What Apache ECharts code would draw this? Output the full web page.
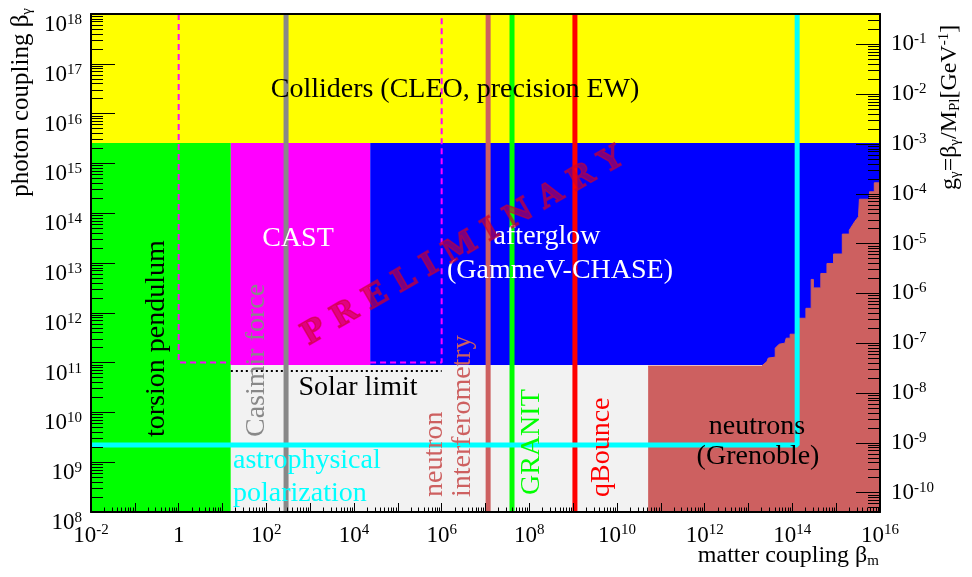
<!DOCTYPE html>
<html><head><meta charset="utf-8">
<script src="https://cdn.jsdelivr.net/npm/echarts@6/dist/echarts.min.js"></script>
<style>html,body{margin:0;padding:0;background:#fff}#c{width:972px;height:577px}</style>
</head><body><div id="c"></div>
<script>
// ---------------- DATA (all values are log10 of the couplings) ----------------
// x: matter coupling beta_m, y: photon coupling beta_gamma
const xExtent = [-2, 16];
const yExtent = [8, 18];
const log10PlanckMass = 18.39;            // g_gamma = beta_gamma / M_Pl  [GeV^-1]

const xTickLabelExp = [-2, 0, 2, 4, 6, 8, 10, 12, 14, 16];
const yTickLabelExp = [8, 9, 10, 11, 12, 13, 14, 15, 16, 17, 18];
const gTickLabelExp = [-10, -9, -8, -7, -6, -5, -4, -3, -2, -1];

// excluded rectangular regions
const regionNames = ['Colliders (CLEO, precision EW)', 'torsion pendulum', 'CAST', 'afterglow (GammeV-CHASE)', 'Solar limit'];
const regionXMin = [-2, -2, 1.19, 4.37, 1.19];
const regionXMax = [16, 1.19, 4.37, 16, 10.71];
const regionYMin = [15.41, 8, 10.95, 10.95, 8];
const regionYMax = [18, 15.41, 15.41, 15.41, 10.95];

// neutrons (Grenoble) excluded region upper boundary
const neutronXs = [10.71, 13.30, 13.42, 13.45, 13.45, 13.61, 13.61, 13.70, 13.83, 13.86, 13.95, 13.95, 14.14, 14.14,
  14.31, 14.31, 14.43, 14.43, 14.48, 14.48, 14.65, 14.65, 14.79, 14.79, 14.94, 14.94, 15.14, 15.14,
  15.30, 15.30, 15.43, 15.51, 15.53, 15.53, 15.76, 15.76, 15.87, 15.87, 16.0];
const neutronYs = [10.93, 10.93, 11.02, 11.09, 11.11, 11.11, 11.29, 11.37, 11.39, 11.49, 11.49, 11.57, 11.57, 11.89,
  11.89, 12.09, 12.09, 12.67, 12.67, 12.50, 12.50, 12.79, 12.79, 12.99, 12.99, 13.18, 13.18, 13.58,
  13.58, 13.66, 13.84, 13.93, 13.95, 14.28, 14.28, 14.43, 14.43, 14.61, 14.61];

// vertical limit lines (beta_m)
const lineNames = ['Casimir force', 'neutron interferometry', 'GRANIT', 'qBounce'];
const lineXs = [2.45, 7.06, 7.605, 9.04];

// astrophysical polarization bound (L shape)
const astroXs = [-2, 14.11, 14.11];
const astroYs = [9.345, 9.345, 18];

// torsion pendulum projection (dashed)
const pendulumXs = [0, 0, 6, 6];
const pendulumYs = [18, 11, 11, 18];

// solar limit (dotted)
const solarXs = [1.19, 6];
const solarYs = [10.83, 10.83];

// ---------------- STYLE ----------------
const FONT = 'Liberation Serif';
const regionColors = ['#ffff00', '#00ff00', '#ff00ff', '#0000ff', '#f2f2f2'];
const neutronColor = '#cd6060';
const lineColors = ['#888888', '#cd6060', '#00ff00', '#ff0000'];
const cyan = '#00ffff';

function zip(a, b) { return a.map((v, i) => [v, b[i]]); }
function intRange(a, b) { const o = []; for (let i = a; i <= b; i++) o.push(i); return o; }
function minors(lo, hi) {
  const out = [];
  for (let n = Math.floor(lo) - 1; n <= Math.ceil(hi); n++)
    for (let k = 2; k <= 9; k++) { const v = n + Math.log10(k); if (v > lo + 1e-9 && v < hi - 1e-9) out.push(v); }
  return out;
}
const expLabel = v => (Math.abs(v) < 1e-9 ? '1' : '10{e|' + Math.round(v) + '}');
const labelRich = { e: { fontSize: 15, fontFamily: FONT, color: '#000', verticalAlign: 'top', lineHeight: 15 } };

const gMin = yExtent[0] - log10PlanckMass, gMax = yExtent[1] - log10PlanckMass;

function baseAxis(extra) {
  return Object.assign({
    type: 'value', z: 10, splitLine: { show: false },
    axisLine: { show: false, onZero: false, lineStyle: { color: '#000', width: 2 } },
    axisTick: { show: false }, axisLabel: { show: false }
  }, extra);
}

const xAxes = [
  baseAxis({ min: xExtent[0], max: xExtent[1], position: 'bottom',
    axisLine: { show: true, onZero: false, lineStyle: { color: '#000', width: 2 } },
    axisTick: { show: true, inside: true, length: 9, lineStyle: { color: '#000', width: 1 }, customValues: intRange(xExtent[0], xExtent[1]) },
    axisLabel: { show: true, margin: 11, customValues: xTickLabelExp, formatter: expLabel, color: '#000',
      fontFamily: FONT, fontSize: 23, lineHeight: 25, rich: labelRich } }),
  baseAxis({ min: xExtent[0], max: xExtent[1], position: 'bottom',
    axisTick: { show: true, inside: true, length: 4.5, lineStyle: { color: '#000', width: 1 }, customValues: minors(xExtent[0], xExtent[1]) } }),
  baseAxis({ min: xExtent[0], max: xExtent[1], position: 'top',
    axisLine: { show: true, onZero: false, lineStyle: { color: '#000', width: 2 } } })
];

const yAxes = [
  baseAxis({ min: yExtent[0], max: yExtent[1], position: 'left',
    axisLine: { show: true, onZero: false, lineStyle: { color: '#000', width: 2 } },
    axisTick: { show: true, inside: true, length: 24, lineStyle: { color: '#000', width: 1 }, customValues: intRange(yExtent[0], yExtent[1]) },
    axisLabel: { show: true, margin: 9, customValues: yTickLabelExp, formatter: expLabel, color: '#000',
      fontFamily: FONT, fontSize: 23, lineHeight: 25, padding: [22, 0, 0, 0], rich: labelRich } }),
  baseAxis({ min: yExtent[0], max: yExtent[1], position: 'left',
    axisTick: { show: true, inside: true, length: 12, lineStyle: { color: '#000', width: 1 }, customValues: minors(yExtent[0], yExtent[1]) } }),
  baseAxis({ min: gMin, max: gMax, position: 'right',
    axisLine: { show: true, onZero: false, lineStyle: { color: '#000', width: 2 } },
    axisTick: { show: true, inside: true, length: 24, lineStyle: { color: '#000', width: 1 }, customValues: gTickLabelExp },
    axisLabel: { show: true, margin: 11, customValues: gTickLabelExp, formatter: expLabel, color: '#000',
      fontFamily: FONT, fontSize: 23, lineHeight: 25, rich: labelRich } }),
  baseAxis({ min: gMin, max: gMax, position: 'right',
    axisTick: { show: true, inside: true, length: 12, lineStyle: { color: '#000', width: 1 }, customValues: minors(gMin, gMax) } })
];

const series = [];
regionNames.forEach((name, i) => {
  series.push({
    type: 'custom', name, z: 1, clip: true, silent: true,
    data: [[regionXMin[i], regionXMax[i], regionYMin[i], regionYMax[i]]],
    renderItem: (params, api) => {
      const p0 = api.coord([api.value(0), api.value(2)]);
      const p1 = api.coord([api.value(1), api.value(3)]);
      return { type: 'rect',
        shape: { x: Math.min(p0[0], p1[0]), y: Math.min(p0[1], p1[1]), width: Math.abs(p1[0] - p0[0]), height: Math.abs(p1[1] - p0[1]) },
        style: { fill: regionColors[i] } };
    }
  });
});
series.push({ type: 'line', name: 'neutrons (Grenoble)', z: 2, symbol: 'none', silent: true,
  data: zip(neutronXs, neutronYs),
  lineStyle: { color: neutronColor, width: 1 },
  areaStyle: { color: neutronColor, opacity: 1, origin: 'start' } });
series.push({ type: 'line', name: 'torsion pendulum projection', z: 3, symbol: 'none', silent: true,
  data: zip(pendulumXs, pendulumYs), lineStyle: { color: '#ff00ff', width: 2, type: [6, 4] } });
series.push({ type: 'line', name: 'Solar limit', z: 3, symbol: 'none', silent: true,
  data: zip(solarXs, solarYs), lineStyle: { color: '#000', width: 2, type: [2, 3] } });
lineNames.forEach((name, i) => {
  series.push({ type: 'line', name, z: 4, symbol: 'none', silent: true,
    data: [[lineXs[i], yExtent[0]], [lineXs[i], yExtent[1]]],
    lineStyle: { color: lineColors[i], width: 5 } });
});
series.push({ type: 'line', name: 'astrophysical polarization', z: 5, symbol: 'none', silent: true,
  data: zip(astroXs, astroYs), lineStyle: { color: cyan, width: 5 } });

const T = (text, x, y, fill, opts) => Object.assign({
  type: 'text', x, y, z: 100, silent: true,
  style: Object.assign({ text, fill, fontFamily: FONT, fontSize: 28, align: 'center', verticalAlign: 'middle',
    textAlign: 'center', textVerticalAlign: 'middle' }, (opts && opts.style) || {})
}, opts && opts.rotation !== undefined ? { rotation: opts.rotation } : {});
const V = (text, x, y, fill) => T(text, x, y, fill, { rotation: Math.PI / 2, style: { align: 'left', textAlign: 'left' } });

const subStyle = { fontSize: 15, fontFamily: FONT, fill: '#000', verticalAlign: 'bottom', lineHeight: 15, padding: [10, 0, 0, 0] };
const supStyle = { fontSize: 15, fontFamily: FONT, fill: '#000', verticalAlign: 'top', lineHeight: 15 };

const graphics = [
  T('Colliders (CLEO, precision EW)', 455, 90, '#000'),
  T('CAST', 298, 239, '#fff'),
  T('afterglow', 547, 237, '#fff'),
  T('(GammeV-CHASE)', 560, 271, '#fff'),
  T('Solar limit', 358, 388, '#000'),
  T('neutrons', 757, 427, '#000'),
  T('(Grenoble)', 758, 457, '#000'),
  T('astrophysical', 233, 461, cyan, { style: { align: 'left', textAlign: 'left' } }),
  T('polarization', 233, 494, cyan, { style: { align: 'left', textAlign: 'left' } }),
  V('torsion pendulum', 157, 437, '#000'),
  V('Casimir force', 257, 437, '#888888'),
  V('neutron', 435, 497, neutronColor),
  V('interferometry', 463, 497, neutronColor),
  V('GRANIT', 532, 495, '#00ff00'),
  V('qBounce', 602, 497, '#ff0000'),
  // axis titles
  { type: 'text', x: 879, y: 556, z: 100, silent: true,
    style: { text: 'matter coupling β{sub|m}', fill: '#000', fontFamily: FONT, fontSize: 24, lineHeight: 26,
      align: 'right', verticalAlign: 'middle', textAlign: 'right', textVerticalAlign: 'middle', rich: { sub: subStyle } } },
  { type: 'text', x: 21, y: 8, z: 100, silent: true, rotation: Math.PI / 2,
    style: { text: 'photon coupling β{sub|γ}', fill: '#000', fontFamily: FONT, fontSize: 25, lineHeight: 27,
      align: 'right', verticalAlign: 'middle', textAlign: 'right', textVerticalAlign: 'middle', rich: { sub: subStyle } } },
  { type: 'text', x: 950, y: 190, z: 100, silent: true, rotation: Math.PI / 2,
    style: { text: 'g{sub|γ}=β{sub|γ}/M{sub|Pl}[GeV{sup|-1}]', fill: '#000', fontFamily: FONT, fontSize: 24, lineHeight: 26,
      align: 'left', verticalAlign: 'middle', textAlign: 'left', textVerticalAlign: 'middle',
      rich: { sub: subStyle, sup: supStyle } } },
  // watermark
  { type: 'text', x: 463, y: 247, z: 120, silent: true, rotation: Math.PI / 6,
    style: { text: 'P R E L I M I N A R Y', fill: 'rgba(205,0,45,0.6)', stroke: 'rgba(205,0,45,0.6)', lineWidth: 1.5,
      fontFamily: 'DejaVu Serif', fontWeight: 'bold', fontSize: 31,
      align: 'center', verticalAlign: 'middle', textAlign: 'center', textVerticalAlign: 'middle',
      textShadowColor: 'rgba(90,0,20,0.5)', textShadowOffsetX: 2, textShadowOffsetY: 2, textShadowBlur: 0 } }
];

const chart = echarts.init(document.getElementById('c'), null, { renderer: 'canvas' });
chart.setOption({
  animation: false,
  backgroundColor: '#ffffff',
  grid: { left: 91, right: 92, top: 14, bottom: 65, containLabel: false, outerBoundsMode: 'none' },
  xAxis: xAxes,
  yAxis: yAxes,
  series,
  graphic: graphics
});
</script>
</body></html>
